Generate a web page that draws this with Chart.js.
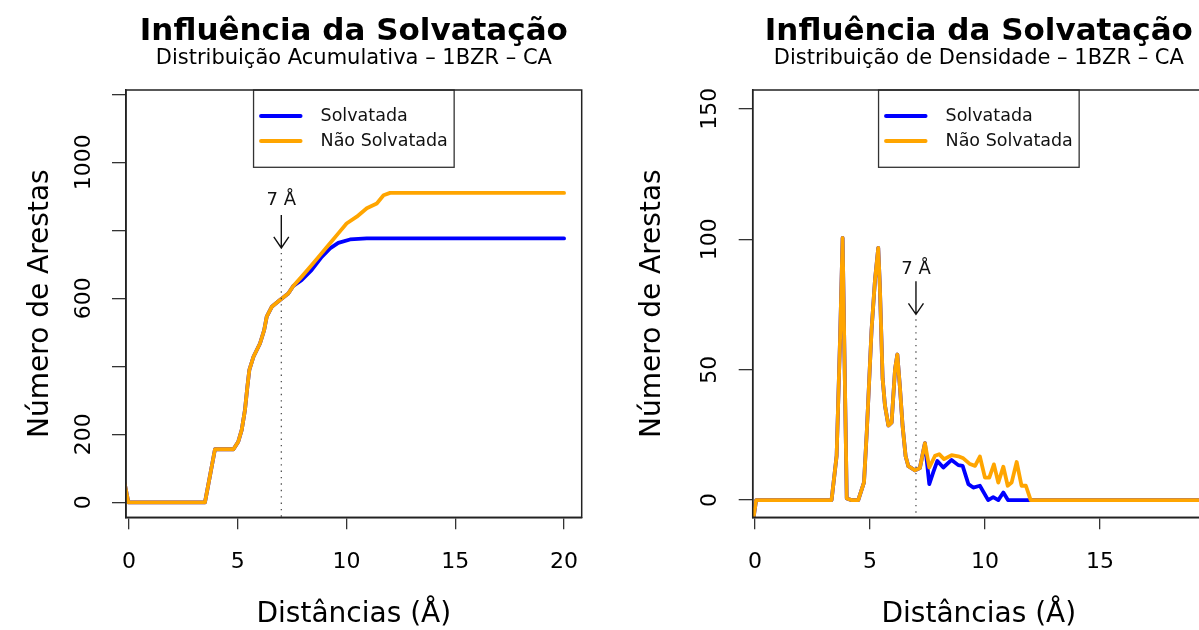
<!DOCTYPE html>
<html><head><meta charset="utf-8">
<script src="https://cdn.jsdelivr.net/npm/chart.js@4.4.0/dist/chart.umd.min.js"></script>
<style>
html,body{margin:0;padding:0;background:#fff;overflow:hidden;width:1199px;height:630px;position:relative;}
#wrapA{position:absolute;left:0;top:0;width:600px;height:630px;}
#wrapB{position:absolute;left:620px;top:0;width:600px;height:630px;}
</style></head><body>
<div id="wrapA"><canvas id="cA" width="600" height="630"></canvas></div>
<div id="wrapB"><canvas id="cB" width="600" height="630"></canvas></div>
<script>
// ---------- data ----------
const seriesNames = ['Solvatada', 'Não Solvatada'];
const seriesColors = ['#0000FF', '#FFA500'];

// Distribuição Acumulativa
const acumDistSolv = [-0.2, -0.03, 3.49, 3.72, 3.95, 4.8, 5.02, 5.18, 5.33, 5.44, 5.53, 5.72, 6.02, 6.21, 6.33, 6.56, 6.94, 7.32, 7.55, 7.93, 8.39, 8.86, 9.24, 9.62, 10.16, 10.93, 20];
const acumSolv     = [55, 0, 0, 78, 156, 156, 178, 213, 272, 340, 389, 428, 467, 506, 546, 575, 595, 614, 636, 653, 683, 722, 747, 763, 773, 776, 776];
const acumDistNao  = [-0.2, -0.03, 3.49, 3.72, 3.95, 4.8, 5.02, 5.18, 5.33, 5.44, 5.53, 5.72, 6.02, 6.21, 6.33, 6.56, 6.94, 7.32, 7.55, 7.93, 8.39, 8.78, 9.24, 9.62, 10.0, 10.47, 10.93, 11.39, 11.7, 12.0, 20];
const acumNao      = [55, 0, 0, 78, 156, 156, 178, 213, 272, 340, 389, 428, 467, 506, 546, 575, 595, 614, 636, 663, 697, 727, 762, 791, 820, 840, 865, 879, 903, 910, 910];

// Distribuição de Densidade
const densDistSolv = [-0.1, 0.05, 3.33, 3.55, 3.7, 3.81, 3.99, 4.2, 4.49, 4.74, 4.86, 5.07, 5.22, 5.36, 5.43, 5.55, 5.65, 5.8, 5.94, 6.09, 6.19, 6.3, 6.42, 6.55, 6.67, 6.96, 7.17, 7.39,
                      7.58, 7.75, 7.93, 8.19, 8.55, 8.84, 9.03, 9.28, 9.49, 9.78, 10.14, 10.36, 10.58, 10.8, 11.0, 20];
const densSolv     = [-9, 0, 0, 17, 62, 100.5, 0.6, 0, 0, 6.8, 25.9, 65.4, 84.6, 96.7, 82, 46.6, 36.4, 28.6, 29.7, 50.1, 55.8, 43.6, 28.3, 16.8, 13, 11.4, 12.3, 21.8,
                      6.1, 10.6, 15.0, 12.5, 15.4, 13.4, 13.1, 6.1, 4.8, 5.5, 0, 1.1, 0, 2.9, 0, 0];
const densDistNao  = [-0.1, 0.05, 3.33, 3.55, 3.7, 3.81, 3.99, 4.2, 4.49, 4.74, 4.86, 5.07, 5.22, 5.36, 5.43, 5.55, 5.65, 5.8, 5.94, 6.09, 6.19, 6.3, 6.42, 6.55, 6.67, 6.96, 7.17, 7.39,
                      7.58, 7.83, 8.01, 8.22, 8.55, 8.84, 9.06, 9.35, 9.57, 9.78, 10.0, 10.19, 10.39, 10.58, 10.8, 10.99, 11.16, 11.38, 11.59, 11.78, 11.99, 20];
const densNao      = [-9, 0, 0, 17, 62, 100.5, 0.6, 0, 0, 6.8, 25.9, 65.4, 84.6, 96.7, 82, 46.6, 36.4, 28.6, 29.7, 50.1, 55.8, 43.6, 28.3, 16.8, 13, 11.4, 12.3, 21.8,
                      12.5, 17.0, 17.6, 15.7, 17.2, 16.8, 16.0, 13.8, 13.1, 16.7, 8.6, 8.6, 13.7, 6.7, 12.8, 5.5, 6.7, 14.6, 5.5, 5.5, 0, 0];

// ticks
const xTicksAcum = [0, 5, 10, 15, 20];
const yTicksAcum = [0, 200, 400, 600, 800, 1000, 1200];
const yLabelsAcum = [0, 200, 600, 1000];
const xTicksDens = [0, 5, 10, 15];
const yTicksDens = [0, 50, 100, 150];
const yLabelsDens = [0, 50, 100, 150];

// texts
const mainTitle = 'Influência da Solvatação';
const subAcum = 'Distribuição Acumulativa – 1BZR – CA';
const subDens = 'Distribuição de Densidade – 1BZR – CA';
const xTitle = 'Distâncias (Å)';
const yTitle = 'Número de Arestas';
const markText = '7 Å';
const markDist = 7;

// ---------- drawing ----------
const FONT = "'DejaVu Sans', sans-serif";

const rDecor = {
  id: 'rDecor',
  afterDatasetsDraw(chart, args, o) {
    const ctx = chart.ctx, a = chart.chartArea;
    const xs = chart.scales.x, ys = chart.scales.y;
    ctx.save();
    // 7 Å marker
    const px = xs.getPixelForValue(o.annotX);
    const tipY = ys.getPixelForValue(o.arrowTip);
    const topY = ys.getPixelForValue(o.arrowTop);
    const txtY = ys.getPixelForValue(o.textY);
    ctx.strokeStyle = '#444'; ctx.lineWidth = 1.2; ctx.setLineDash([1.4, 5]);
    ctx.beginPath(); ctx.moveTo(px, tipY + 5); ctx.lineTo(px, a.bottom); ctx.stroke();
    ctx.setLineDash([]);
    ctx.strokeStyle = '#111'; ctx.lineWidth = 1.4;
    ctx.beginPath(); ctx.moveTo(px, topY); ctx.lineTo(px, tipY);
    ctx.moveTo(px - 7.5, tipY - 11); ctx.lineTo(px, tipY); ctx.lineTo(px + 7.5, tipY - 11); ctx.stroke();
    ctx.fillStyle = '#111'; ctx.font = '18px ' + FONT; ctx.textAlign = 'center'; ctx.textBaseline = 'middle';
    ctx.fillText(o.annotText, px, txtY);
    // legend box
    const cx = (a.left + a.right) / 2;
    const w = 200.6, h = 77.3;
    const lx = cx - w / 2, ly = a.top;
    ctx.fillStyle = '#fff'; ctx.fillRect(lx, ly, w, h);
    ctx.strokeStyle = '#333'; ctx.lineWidth = 1.3; ctx.strokeRect(lx, ly, w, h);
    chart.data.datasets.forEach((ds, i) => {
      const yy = ly + 26 + i * 25;
      ctx.strokeStyle = ds.borderColor; ctx.lineWidth = 4; ctx.lineCap = 'round';
      ctx.beginPath(); ctx.moveTo(lx + 7.5, yy); ctx.lineTo(lx + 47, yy); ctx.stroke();
      ctx.fillStyle = '#111'; ctx.textAlign = 'left'; ctx.textBaseline = 'middle';
      ctx.font = '17.5px ' + FONT;
      ctx.fillText(ds.label, lx + 67, yy);
    });
    // plot box
    ctx.strokeStyle = '#222'; ctx.lineWidth = 1.5;
    ctx.strokeRect(a.left, a.top, a.right - a.left, a.bottom - a.top);
    ctx.restore();
  }
};

function pts(xs, ys) { return xs.map((x, i) => ({ x: x, y: ys[i] })); }

function makeChart(id, c) {
  const line = { borderWidth: 3.8, pointRadius: 0, tension: 0, fill: false, clip: 0, borderJoinStyle: 'round', borderCapStyle: 'round' };
  return new Chart(document.getElementById(id), {
    type: 'line',
    data: {
      datasets: [
        Object.assign({ label: seriesNames[0], data: pts(c.xs[0], c.ys[0]), borderColor: seriesColors[0], backgroundColor: seriesColors[0], order: 2 }, line),
        Object.assign({ label: seriesNames[1], data: pts(c.xs[1], c.ys[1]), borderColor: seriesColors[1], backgroundColor: seriesColors[1], order: 1 }, line)
      ]
    },
    options: {
      responsive: false, animation: false, devicePixelRatio: 1,
      layout: { padding: { left: 0, right: c.padRight, top: 0, bottom: 0 } },
      plugins: {
        legend: { display: false },
        tooltip: { enabled: false },
        title: { display: true, text: mainTitle, fullSize: false, color: '#000',
                 font: { family: FONT, size: 31, weight: 'bold', lineHeight: 1 }, padding: { top: 16, bottom: 0 } },
        subtitle: { display: true, text: c.subtitle, fullSize: false, color: '#000',
                    font: { family: FONT, size: 21, lineHeight: 1 }, padding: { top: 0.7, bottom: 21.3 } },
        rDecor: c.annot
      },
      scales: {
        x: {
          type: 'linear', min: c.xMin, max: c.xMax,
          afterBuildTicks: s => { s.ticks = c.xTicks.map(v => ({ value: v })); },
          afterFit: s => { s.height = 112.7; },
          ticks: { autoSkip: false, maxRotation: 0, minRotation: 0, padding: 20, color: '#000',
                   font: { family: FONT, size: 22, lineHeight: 1.2 }, callback: v => String(v) },
          grid: { drawOnChartArea: false, drawTicks: true, tickLength: 12, color: '#333', lineWidth: 1.3 },
          border: { display: true, color: '#222', width: 1.5 },
          title: { display: true, text: xTitle, color: '#000', font: { family: FONT, size: 28, lineHeight: 1 }, padding: { top: 0, bottom: 1 } }
        },
        y: {
          type: 'linear', min: c.yMin, max: c.yMax,
          afterBuildTicks: s => { s.ticks = c.yTicks.map(v => ({ value: v })); },
          afterFit: s => { s.width = c.yWidth; },
          ticks: { autoSkip: false, minRotation: 90, maxRotation: 90, crossAlign: 'center', padding: c.yTickPad, color: '#000',
                   font: { family: FONT, size: 22, lineHeight: 1.2 },
                   callback: v => (c.yLabels.indexOf(v) >= 0 ? String(v) : '') },
          grid: { drawOnChartArea: false, drawTicks: true, tickLength: 14, color: '#333', lineWidth: 1.3 },
          border: { display: true, color: '#222', width: 1.5 },
          title: { display: true, text: yTitle, color: '#000', font: { family: FONT, size: 28, lineHeight: 1 }, padding: { top: c.yTitlePad, bottom: 0 } }
        }
      }
    },
    plugins: [rDecor]
  });
}

makeChart('cA', {
  xs: [acumDistSolv, acumDistNao], ys: [acumSolv, acumNao],
  subtitle: subAcum, padRight: 18.3, yWidth: 126, yTitlePad: 26.3, yTickPad: 0,
  xMin: -0.14, xMax: 20.81, yMin: -44.1, yMax: 1212.6,
  xTicks: xTicksAcum, yTicks: yTicksAcum, yLabels: yLabelsAcum,
  annot: { annotX: markDist, annotText: markText, textY: 889, arrowTop: 845, arrowTip: 748 }
});
makeChart('cB', {
  xs: [densDistSolv, densDistNao], ys: [densSolv, densNao],
  subtitle: subDens, padRight: 15, yWidth: 132.7, yTitlePad: 19, yTickPad: 7.7,
  xMin: -0.1, xMax: 19.57, yMin: -6.6, yMax: 157.2,
  xTicks: xTicksDens, yTicks: yTicksDens, yLabels: yLabelsDens,
  annot: { annotX: markDist, annotText: markText, textY: 88.4, arrowTop: 83.9, arrowTip: 71.2 }
});
</script>
</body></html>
